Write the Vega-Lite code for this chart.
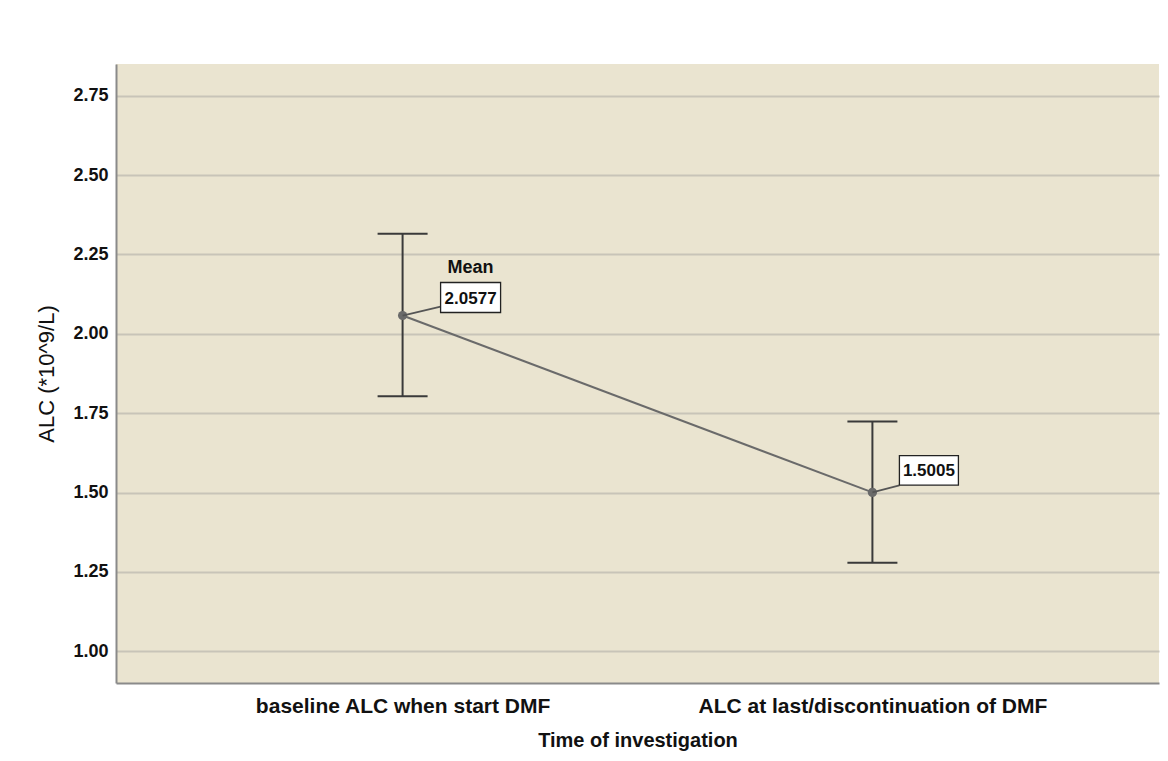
{
  "$schema": "https://vega.github.io/schema/vega-lite/v6.json",
  "autosize": "none",
  "width": 1043,
  "height": 619,
  "padding": {"left": 116, "top": 64, "right": 9, "bottom": 78},
  "background": "white",
  "config": {
    "view": {"stroke": null, "fill": "#EAE4D0"},
    "font": "Liberation Sans"
  },
  "data": {
    "values": [
      {"time": "baseline ALC when start DMF", "mean": 2.0577, "lo": 1.803, "hi": 2.315, "note": "Mean"},
      {"time": "ALC at last/discontinuation of DMF", "mean": 1.5005, "lo": 1.279, "hi": 1.724, "note": ""}
    ]
  },
  "encoding": {
    "x": {
      "field": "time",
      "type": "nominal",
      "sort": null,
      "scale": {"type": "point", "padding": 0.61},
      "axis": {
        "title": "Time of investigation",
        "titleFont": "Liberation Sans",
        "titleFontSize": 20,
        "titleFontWeight": "bold",
        "titleColor": "#111",
        "titleY": 47,
        "labelAngle": 0,
        "labelFont": "Liberation Sans",
        "labelFontSize": 21,
        "labelFontWeight": "bold",
        "labelColor": "#111",
        "labelPadding": 12,
        "labelLimit": 0,
        "ticks": false,
        "grid": false,
        "domainColor": "#8a8a8a",
        "domainWidth": 2
      }
    }
  },
  "layer": [
    {
      "mark": {"type": "rule", "color": "#3a3a3a", "strokeWidth": 2},
      "encoding": {
        "y": {
          "field": "lo",
          "type": "quantitative",
          "scale": {"domain": [0.9, 2.85], "nice": false, "zero": false},
          "axis": {
            "title": "ALC (*10^9/L)",
            "titleFont": "Liberation Sans",
            "titleFontSize": 22,
            "titleFontWeight": "normal",
            "titleColor": "#111",
            "titleX": -58,
            "titleY": 309.5,
            "titleAngle": -90,
            "titleAlign": "center",
            "titleBaseline": "bottom",
            "values": [1, 1.25, 1.5, 1.75, 2, 2.25, 2.5, 2.75],
            "format": ".2f",
            "labelFont": "Liberation Sans",
            "labelFontSize": 18,
            "labelFontWeight": "bold",
            "labelColor": "#111",
            "labelPadding": 8,
            "ticks": false,
            "grid": true,
            "gridColor": "#C8C4B8",
            "gridWidth": 2,
            "domainColor": "#8a8a8a",
            "domainWidth": 2
          }
        },
        "y2": {"field": "hi"}
      }
    },
    {
      "mark": {"type": "tick", "color": "#3a3a3a", "thickness": 2, "size": 50, "opacity": 1},
      "encoding": {"y": {"field": "lo", "type": "quantitative"}}
    },
    {
      "mark": {"type": "tick", "color": "#3a3a3a", "thickness": 2, "size": 50, "opacity": 1},
      "encoding": {"y": {"field": "hi", "type": "quantitative"}}
    },
    {
      "mark": {"type": "line", "color": "#6a6a6a", "strokeWidth": 2},
      "encoding": {"y": {"field": "mean", "type": "quantitative"}}
    },
    {
      "mark": {"type": "point", "filled": true, "color": "#6a6a6a", "size": 85, "opacity": 1},
      "encoding": {"y": {"field": "mean", "type": "quantitative"}}
    },
    {
      "transform": [{"filter": "datum.note == 'Mean'"}],
      "layer": [
        {
          "mark": {"type": "rule", "color": "#555", "strokeWidth": 1.8, "x2Offset": 38, "y2Offset": -9},
          "encoding": {
            "y": {"field": "mean", "type": "quantitative"},
            "x2": {"field": "time"},
            "y2": {"field": "mean"}
          }
        },
        {
          "mark": {"type": "point", "shape": "M-1,-0.5H1V0.5H-1Z", "size": 3600, "filled": true, "fill": "white", "stroke": "#222", "strokeWidth": 1.3, "opacity": 1, "xOffset": 68, "yOffset": -18},
          "encoding": {"y": {"field": "mean", "type": "quantitative"}}
        },
        {
          "mark": {"type": "text", "font": "Liberation Sans", "fontSize": 17, "fontWeight": "bold", "color": "#111", "align": "center", "baseline": "middle", "xOffset": 68, "yOffset": -17},
          "encoding": {
            "y": {"field": "mean", "type": "quantitative"},
            "text": {"field": "mean", "type": "quantitative", "format": ".4f"}
          }
        },
        {
          "mark": {"type": "text", "font": "Liberation Sans", "fontSize": 18, "fontWeight": "bold", "color": "#111", "align": "center", "baseline": "middle", "xOffset": 68, "yOffset": -48},
          "encoding": {
            "y": {"field": "mean", "type": "quantitative"},
            "text": {"field": "note", "type": "nominal"}
          }
        }
      ]
    },
    {
      "transform": [{"filter": "datum.note != 'Mean'"}],
      "layer": [
        {
          "mark": {"type": "rule", "color": "#555", "strokeWidth": 1.8, "x2Offset": 27, "y2Offset": -7},
          "encoding": {
            "y": {"field": "mean", "type": "quantitative"},
            "x2": {"field": "time"},
            "y2": {"field": "mean"}
          }
        },
        {
          "mark": {"type": "point", "shape": "M-1,-0.5H1V0.5H-1Z", "size": 3481, "filled": true, "fill": "white", "stroke": "#222", "strokeWidth": 1.3, "opacity": 1, "xOffset": 56.5, "yOffset": -22},
          "encoding": {"y": {"field": "mean", "type": "quantitative"}}
        },
        {
          "mark": {"type": "text", "font": "Liberation Sans", "fontSize": 17, "fontWeight": "bold", "color": "#111", "align": "center", "baseline": "middle", "xOffset": 56.5, "yOffset": -21},
          "encoding": {
            "y": {"field": "mean", "type": "quantitative"},
            "text": {"field": "mean", "type": "quantitative", "format": ".4f"}
          }
        }
      ]
    }
  ]
}
